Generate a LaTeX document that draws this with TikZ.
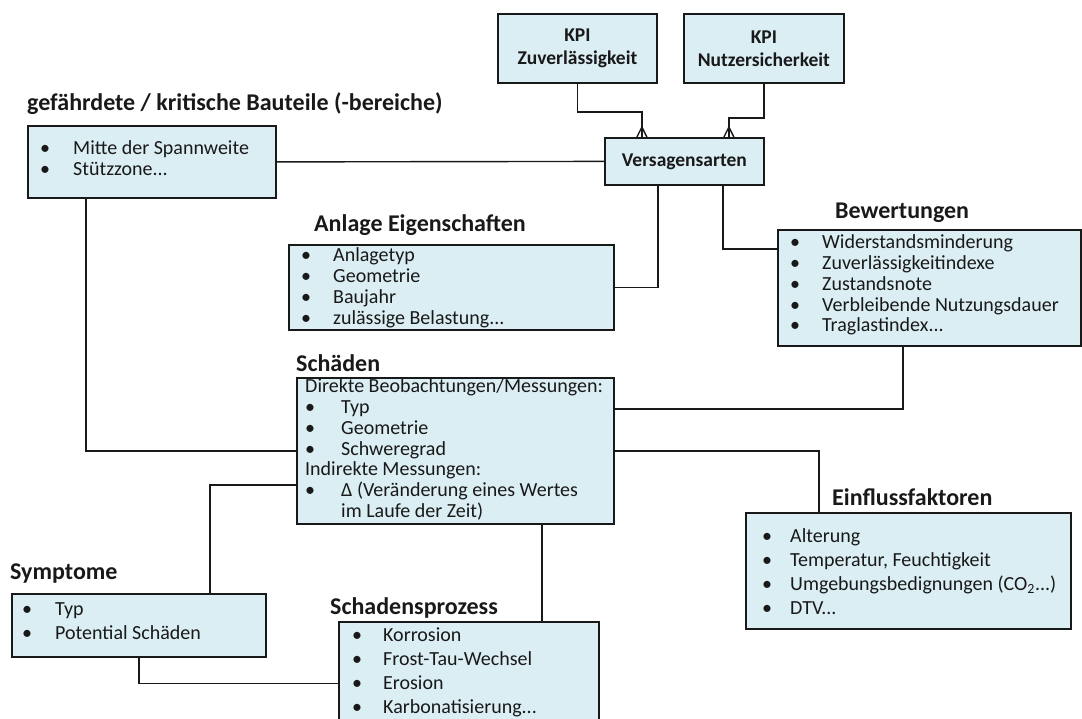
\documentclass[tikz,border=0pt]{standalone}
\usepackage{fontspec}
\setmainfont{Carlito}
\definecolor{boxfill}{RGB}{219,238,244}
\definecolor{ink}{RGB}{25,25,25}
\newcommand{\itm}[2]{\makebox[#1][l]{\textbullet}#2}
\begin{document}
\begin{tikzpicture}[x=1pt,y=-1pt,
  box/.style={draw=ink, line width=1.8pt, fill=boxfill, inner sep=0pt, anchor=north west},
  conn/.style={draw=ink, line width=1.4pt},
  ttl/.style={font=\fontsize{24}{28}\selectfont\bfseries, anchor=west, inner sep=0pt, text=ink},
  body/.style={font=\fontsize{20}{#1}\selectfont, anchor=north west, inner sep=0pt, align=left, text=ink},
  body/.default=21,
  bold/.style={font=\fontsize{19.5}{23}\selectfont\bfseries, align=center, text=ink}
]
\useasboundingbox (0,0) rectangle (1082,718);
\clip (0,0) rectangle (1082,718);

% boxes
\node[box, minimum width=159pt, minimum height=69pt, bold] (kpi1) at (497,13) {KPI\\Zuverlässigkeit};
\node[box, minimum width=160pt, minimum height=69pt, bold] (kpi2) at (683,13) {KPI\\Nutzersicherkeit};
\node[box, minimum width=159pt, minimum height=47pt, bold] (vers) at (604,137) {Versagensarten};
\node[box, minimum width=248pt, minimum height=72pt] (bau) at (27,125) {};
\node[box, minimum width=325pt, minimum height=85pt] (anl) at (288,244) {};
\node[box, minimum width=303pt, minimum height=116pt] (bew) at (777,229) {};
\node[box, minimum width=317pt, minimum height=146pt] (sch) at (296,377) {};
\node[box, minimum width=325pt, minimum height=116pt] (ein) at (745,512) {};
\node[box, minimum width=254pt, minimum height=63pt] (sym) at (11,593) {};
\node[box, minimum width=260pt, minimum height=116pt] (spz) at (338,621) {};

% titles
\node[ttl] (tbau) at (27,104) {gefährdete / kritische Bauteile (-bereiche)};
\node[ttl] (tanl) at (314,225) {Anlage Eigenschaften};
\node[ttl] (tbew) at (835,213) {Bewertungen};
\node[ttl] (tsch) at (296,363) {Schäden};
\node[ttl] (tein) at (832,497) {Einflussfaktoren};
\node[ttl] (tsym) at (10,574) {Symptome};
\node[ttl] (tspz) at (330,608) {Schadensprozess};

% contents
\node[body] (cbau) at (40,140) {\strut\itm{33pt}{Mitte der Spannweite}\\\itm{33pt}{Stützzone...}};
\node[body] (canl) at (301,247) {\strut\itm{32pt}{Anlagetyp}\\\itm{32pt}{Geometrie}\\\itm{32pt}{Baujahr}\\\itm{32pt}{zulässige Belastung...}};
\node[body=20.8] (cbew) at (790,234) {\strut\itm{32pt}{Widerstandsminderung}\\\itm{32pt}{Zuverlässigkeitindexe}\\\itm{32pt}{Zustandsnote}\\\itm{32pt}{Verbleibende Nutzungsdauer}\\\itm{32pt}{Traglastindex...}};
\node[body=20.8] (csch) at (305,378) {\strut Direkte Beobachtungen/Messungen:\\\itm{36pt}{Typ}\\\itm{36pt}{Geometrie}\\\itm{36pt}{Schweregrad}\\Indirekte Messungen:\\\itm{36pt}{Δ (Veränderung eines Wertes}\\\hspace*{36pt}im Laufe der Zeit)};
\node[body=24] (cein) at (762,525) {\strut\itm{28pt}{Alterung}\\\itm{28pt}{Temperatur, Feuchtigkeit}\\\itm{28pt}{Umgebungsbedignungen (CO\textsubscript{2}...)}\\\itm{28pt}{DTV...}};
\node[body=24] (csym) at (22,598) {\strut\itm{33pt}{Typ}\\\itm{33pt}{Potential Schäden}};
\node[body=24] (cspz) at (352,624) {\strut\itm{31pt}{Korrosion}\\\itm{31pt}{Frost-Tau-Wechsel}\\\itm{31pt}{Erosion}\\\itm{31pt}{Karbonatisierung...}};

% connectors
\draw[conn] (kpi1.south) -- ++(0,28) -| ([xshift=-42.5pt]vers.north);
\draw[conn] (kpi2.south) -- ++(0,34) -| ([xshift=44.5pt]vers.north);
\coordinate (cf1) at ([xshift=-42.5pt,yshift=10pt]vers.north);
\coordinate (cf2) at ([xshift=44.5pt,yshift=10pt]vers.north);
\draw[conn] (cf1) -- ([xshift=-47.5pt]vers.north) (cf1) -- ([xshift=-37.5pt]vers.north);
\draw[conn] (cf2) -- ([xshift=39.5pt]vers.north) (cf2) -- ([xshift=49.5pt]vers.north);
\draw[conn] (bau.east) -- (vers.west);
\draw[conn] ([xshift=59pt]bau.south west) |- (sch.west);
\draw[conn] ([xshift=-26.5pt]vers.south) |- (anl.east);
\draw[conn] ([xshift=38.5pt]vers.south) |- ([yshift=39pt]bew.west);
\draw[conn] ([xshift=-26.5pt]bew.south) |- ([yshift=42pt]sch.east);
\draw[conn] (sch.east) -| ([xshift=-89.5pt]ein.north);
\draw[conn] ([yshift=-34pt]sch.west) -| ([xshift=71pt]sym.north);
\draw[conn] (sym.south) |- ([yshift=-3.5pt]spz.west);
\draw[conn] ([xshift=86.5pt]sch.south) -- ([xshift=86.5pt]sch.south |- spz.north);
\end{tikzpicture}
\end{document}
